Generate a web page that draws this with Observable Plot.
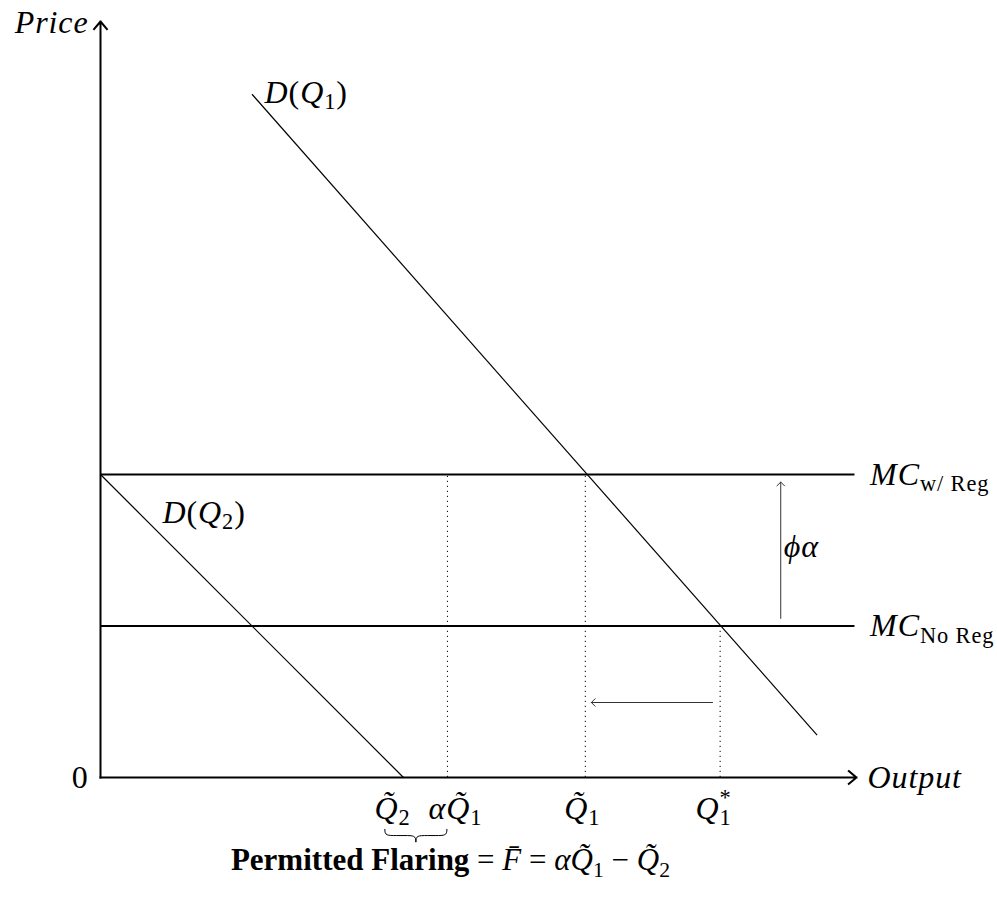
<!DOCTYPE html>
<html>
<head>
<meta charset="utf-8">
<script src="https://cdn.jsdelivr.net/npm/d3@7"></script>
<script src="https://cdn.jsdelivr.net/npm/@observablehq/plot@0.6"></script>
<style>
  body { margin: 0; background: #fff; }
  svg { display: block; }
  text { white-space: pre; letter-spacing: 0.9px; }
</style>
</head>
<body>
<div id="chart"></div>
<script>
// ---------- data (diagram units; origin = (0,0)) ----------
const axisEnd = 4.99;                       // length of both axes
const mcNames  = ["MC_{w/ Reg}", "MC_{No Reg}"];
const mcLevels = [2, 1];
const mcEnd = 4.98;

const demandNames = ["D(Q_1)", "D(Q_2)"];
const demandX1 = [1.0, 0];
const demandY1 = [4.51, 2];
const demandX2 = [4.73, 2];
const demandY2 = [0.28, 0];
const demandLabelX = [1.083, 0.409];
const demandLabelY = [4.52, 1.75];

const guideX   = [2.29, 3.2, 4.09];          // αQ̃1, Q̃1, Q1*
const guideTop = [2, 2, 1];

const tickLabels = ["Q\u0303_2", "αQ\u0303_1", "Q\u0303_1", "Q^*_1"];
const tickLabelX = [1.927, 2.343, 3.18, 4.046];
const tickLabelY = -0.205;

const shiftArrow = {x1: 4.04, x2: 3.24, y: 0.495};      // output falls
const costArrow  = {x: 4.49, y1: 1.05, y2: 1.95};       // cost rises by φα
const costLabel  = "ϕα";
const costLabelPos = {x: 4.51, y: 1.52};

const axisTitles = ["Price", "Output", "0"];
const braceX = [1.88, 2.29];
const braceY = [-0.343, -0.43];
const flaringLabel = "\\bf{Permitted Flaring} = F\u0304 = αQ\u0303_1 − Q\u0303_2";
const flaringPos = {x: 2.31, y: -0.548};

// ---------- tables for the marks ----------
const mcRows = mcLevels.map((y, i) => ({y, name: mcNames[i]}));
const demandRows = demandNames.map((name, i) => ({
  name, x1: demandX1[i], y1: demandY1[i], x2: demandX2[i], y2: demandY2[i],
  lx: demandLabelX[i], ly: demandLabelY[i]
}));
const guideRows = guideX.map((x, i) => ({x, top: guideTop[i]}));
const tickRows = tickLabels.map((t, i) => ({t, x: tickLabelX[i]}));

const FS = 32;
const font = "Liberation Serif";

const chart = Plot.plot({
  width: 997,
  height: 901,
  margin: 0,
  x: {domain: [0, 5], range: [100, 857.5], axis: null},
  y: {domain: [0, 5], range: [777, 19.5], axis: null},
  style: {background: "white", fontFamily: font, color: "black"},
  marks: [
    // dotted guides
    Plot.ruleX(guideRows, {x: "x", y1: 0, y2: "top", stroke: "black", strokeWidth: 1, strokeDasharray: "1.2,3.8"}),
    // MC lines
    Plot.ruleY(mcRows, {y: "y", x1: 0, x2: mcEnd, stroke: "black", strokeWidth: 2}),
    // demand curves
    Plot.link(demandRows, {x1: "x1", y1: "y1", x2: "x2", y2: "y2", stroke: "black", strokeWidth: 1.2}),
    // axes
    Plot.arrow([{x1: 0, y1: 0, x2: 0, y2: axisEnd}, {x1: 0, y1: 0, x2: axisEnd, y2: 0}],
      {x1: "x1", y1: "y1", x2: "x2", y2: "y2", stroke: "black", strokeWidth: 2,
       headAngle: 80, headLength: 7.5, strokeLinecap: "square"}),
    // thin annotation arrows
    Plot.arrow([shiftArrow], {x1: "x1", x2: "x2", y1: "y", y2: "y", stroke: "#333", strokeWidth: 1,
       headAngle: 90, headLength: 8}),
    Plot.arrow([costArrow], {x1: "x", x2: "x", y1: "y1", y2: "y2", stroke: "#333", strokeWidth: 1,
       headAngle: 90, headLength: 8}),
    // labels
    Plot.text(mcRows, {x: mcEnd + 0.1, y: "y", text: "name", textAnchor: "start", fontSize: FS}),
    Plot.text(demandRows, {x: "lx", y: "ly", text: "name", textAnchor: "start", fontSize: FS}),
    Plot.text(tickRows, {x: "x", y: tickLabelY, text: "t", textAnchor: "middle", fontSize: FS}),
    Plot.text([costLabel], {x: costLabelPos.x, y: costLabelPos.y, text: d => d, textAnchor: "start", fontSize: FS}),
    Plot.text([axisTitles[0]], {x: -0.079, y: axisEnd - 0.007, text: d => d, textAnchor: "end", fontSize: FS}),
    Plot.text([axisTitles[1]], {x: axisEnd + 0.073, y: 0, text: d => d, textAnchor: "start", fontSize: FS}),
    Plot.text([axisTitles[2]], {x: -0.079, y: 0, text: d => d, textAnchor: "end", fontSize: FS}),
    Plot.text([flaringLabel], {x: flaringPos.x, y: flaringPos.y, text: d => d, textAnchor: "middle", fontSize: 31})
  ]
});

document.getElementById("chart").append(chart);

// ---------- mini math typesetting of the label strings ----------
const svgNS = "http://www.w3.org/2000/svg";
function parse(s) {
  const segs = [];
  let i = 0;
  while (i < s.length) {
    const c = s[i];
    if (c === "_" || c === "^") {
      let body;
      if (s[i + 1] === "{") { const j = s.indexOf("}", i); body = s.slice(i + 2, j); i = j + 1; }
      else { body = s[i + 1]; i += 2; }
      segs.push({t: body, style: c === "_" ? "sub" : "sup"});
      continue;
    }
    if (s.startsWith("\\bf{", i)) {
      const j = s.indexOf("}", i);
      segs.push({t: s.slice(i + 4, j), style: "bold"});
      i = j + 1;
      continue;
    }
    if (/[\u0300-\u036f]/.test(c) && segs.length) { segs[segs.length - 1].t += c; i++; continue; }
    const style = /[A-Za-zα-ωϕ]/.test(c) ? "it" : "rm";
    const last = segs[segs.length - 1];
    if (last && last.style === style) last.t += c; else segs.push({t: c, style});
    i++;
  }
  return segs;
}
function richText(el) {
  const raw = el.textContent;
  const segs = parse(raw);
  const fs = +el.closest("g").getAttribute("font-size") || FS;
  if (raw.startsWith("\\bf{")) el.style.letterSpacing = "0px";
  el.textContent = "";
  let shift = 0, prevScript = false;
  for (const seg of segs) {
    const ts = document.createElementNS(svgNS, "tspan");
    const script = seg.style === "sub" || seg.style === "sup";
    const target = seg.style === "sub" ? 0.2 * fs : seg.style === "sup" ? -0.42 * fs : 0;
    const dy = target - shift;
    shift = target;
    if (dy) ts.setAttribute("dy", dy);
    if (script) ts.setAttribute("font-size", 0.7 * fs);
    if (seg.style === "it") ts.setAttribute("font-style", "italic");
    if (seg.style === "bold") ts.setAttribute("font-weight", "bold");
    if (script && prevScript) ts.setAttribute("data-stack", "1");
    prevScript = script;
    ts.textContent = seg.t;
    el.appendChild(ts);
  }
}
chart.querySelectorAll('g[aria-label="text"] text').forEach(richText);
chart.querySelectorAll("tspan[data-stack]").forEach(ts => {
  const prev = ts.previousSibling;
  ts.setAttribute("dx", -prev.getComputedTextLength());
});

// ---------- brace under the permitted-flaring interval ----------
const sx = chart.scale("x").apply, sy = chart.scale("y").apply;
const x0 = sx(braceX[0]), x1 = sx(braceX[1]), yt = sy(braceY[0]), yb = sy(braceY[1]);
const m = (x0 + x1) / 2, h = yb - yt, ym = yt + h / 2, r = h * 0.9;
const brace = document.createElementNS(svgNS, "path");
brace.setAttribute("d",
  `M${x0},${yt} C${x0},${ym} ${x0 + 2},${ym} ${x0 + r},${ym} L${m - r},${ym} ` +
  `C${m - 2},${ym} ${m},${ym} ${m},${yb} C${m},${ym} ${m + 2},${ym} ${m + r},${ym} ` +
  `L${x1 - r},${ym} C${x1 - 2},${ym} ${x1},${ym} ${x1},${yt}`);
brace.setAttribute("fill", "none");
brace.setAttribute("stroke", "black");
brace.setAttribute("stroke-width", 1);
chart.appendChild(brace);
</script>
</body>
</html>
